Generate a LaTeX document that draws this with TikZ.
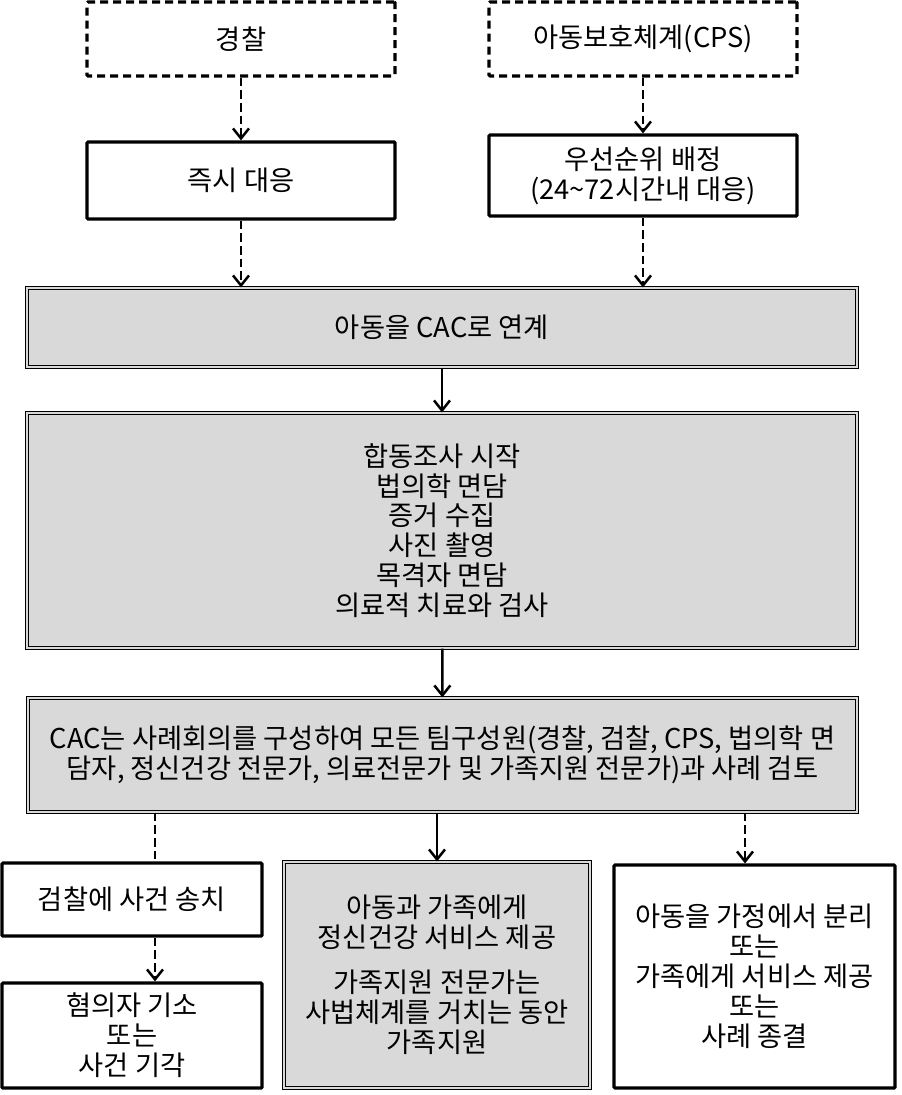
\documentclass[tikz,border=0pt]{standalone}
\usepackage{fontspec}
\setmainfont{Noto Sans CJK KR}
\usetikzlibrary{arrows.meta}
\definecolor{boxgray}{HTML}{D9D9D9}

\begin{document}
\begin{tikzpicture}[x=0.3mm,y=-0.3mm,
       font=\fontsize{23.3}{25.5}\selectfont,
       whitebox/.style={draw,line width=0.95mm,rounded corners=0.3mm,align=center,inner sep=0pt},
       dashbox/.style={whitebox,dash pattern=on 2.4mm off 1.5mm},
       graybox/.style={draw,fill=boxgray,line width=0.35mm,double=boxgray,double distance=0.6mm,align=center,inner sep=0pt},
       arr/.style={line width=0.75mm,-{Straight Barb[length=3mm,width=4.8mm]}},
       darr/.style={arr,dash pattern=on 2.6mm off 1.2mm},
       dline/.style={line width=0.75mm,dash pattern=on 2.6mm off 1.2mm}]
       \useasboundingbox (0,0) rectangle (901,1095);
       \node[dashbox,minimum width=92.4mm,minimum height=22.2mm] (police) at (241,39) {경찰};
       \node[dashbox,minimum width=92.4mm,minimum height=22.2mm] (cps) at (643,39) {아동보호체계(CPS)};
       \node[whitebox,minimum width=92.4mm,minimum height=23.1mm] (immediate) at (241,180.5) {즉시 대응};
       \node[whitebox,minimum width=92.4mm,minimum height=24.3mm] (priority) at (643,175.5) {우선순위 배정\\(24\textasciitilde72시간내 대응)};
       \node[graybox,minimum width=249mm,minimum height=23.7mm] (refer) at (442,327.5) {아동을 CAC로 연계};
       \node[graybox,minimum width=249mm,minimum height=70.5mm] (joint) at (442,530.5)
            {합동조사 시작\\법의학 면담\\증거 수집\\사진 촬영\\목격자 면담\\의료적 치료와 검사};
       \node[graybox,minimum width=248.7mm,minimum height=34.2mm] (review) at (442.5,755)
            {CAC는 사례회의를 구성하여 모든 팀구성원(경찰, 검찰, CPS, 법의학 면\\담자, 정신건강 전문가, 의료전문가 및 가족지원 전문가)과 사례 검토};
       \node[whitebox,minimum width=78mm,minimum height=21.9mm] (prosecute) at (132,899.5) {검찰에 사건 송치};
       \node[whitebox,minimum width=78mm,minimum height=31.5mm] (charge) at (132,1035.5) {혐의자 기소\\또는\\사건 기각};
       \node[graybox,minimum width=91.8mm,minimum height=67.8mm] (mental) at (437,975)
            {아동과 가족에게\\정신건강 서비스 제공\\[4.5mm]가족지원 전문가는\\사법체계를 거치는 동안\\가족지원};
       \node[whitebox,minimum width=84.3mm,minimum height=66.9mm] (separate) at (754.5,976.5)
            {아동을 가정에서 분리\\또는\\가족에게 서비스 제공\\또는\\사례 종결};
       \coordinate (lx) at (155,0);
       \coordinate (rx) at (745,0);
       \draw[darr] (police) -- (immediate);
       \draw[darr] (cps) -- (priority);
       \draw[darr] (immediate.south) -- (immediate.south |- refer.north);
       \draw[darr] (priority.south) -- (priority.south |- refer.north);
       \draw[arr] (refer) -- (joint);
       \draw[arr] (joint) -- (review);
       \draw[dline] (review.south -| lx) -- (prosecute.north -| lx);
       \draw[arr] (review.south -| mental.north) -- (mental.north);
       \draw[darr] (review.south -| rx) -- (separate.north -| rx);
       \draw[darr] (prosecute.south -| lx) -- (charge.north -| lx);
      \end{tikzpicture}
\end{document}
